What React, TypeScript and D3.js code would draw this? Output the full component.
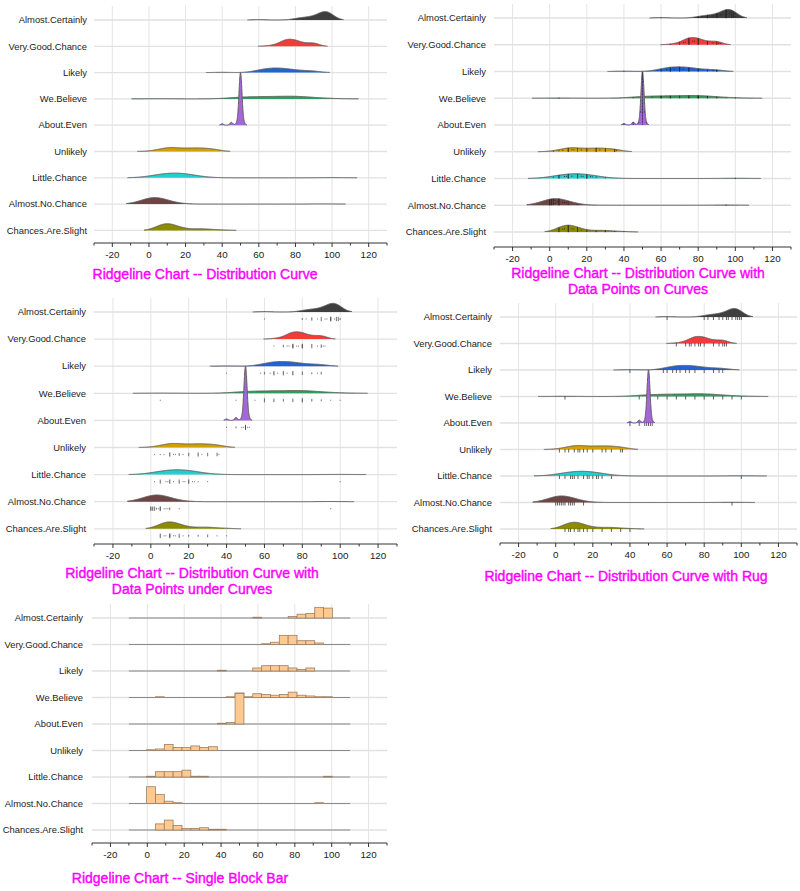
import React from "react";
import * as d3 from "d3";

// ---------------- DATA ----------------
const categories = [
  "Almost.Certainly",
  "Very.Good.Chance",
  "Likely",
  "We.Believe",
  "About.Even",
  "Unlikely",
  "Little.Chance",
  "Almost.No.Chance",
  "Chances.Are.Slight",
];

const curveColors = [
  "#3f3f3f",
  "#f23b3b",
  "#1f63d6",
  "#2f9e5c",
  "#a467d8",
  "#d4a000",
  "#20cfcf",
  "#6e4545",
  "#8e8b00",
];

const almostCertainly = [60, 80, 80, 82, 85, 85, 85, 85, 88, 90, 90, 90, 90, 90, 92, 93, 95, 95, 95, 95, 95, 95, 95, 95, 95, 95, 95, 95, 97, 98, 98, 98, 98, 98, 99, 99, 99, 99, 99, 100, 100];
const veryGoodChance = [65, 70, 70, 70, 72, 73, 75, 75, 75, 75, 75, 75, 75, 75, 75, 75, 77, 78, 80, 80, 80, 80, 80, 80, 80, 80, 80, 80, 85, 85, 85, 85, 85, 88, 90, 90, 90, 90, 91, 92];
const likely = [40, 58, 60, 60, 60, 63, 65, 65, 65, 65, 65, 65, 67, 70, 70, 70, 70, 70, 70, 72, 75, 75, 75, 75, 75, 75, 80, 80, 80, 80, 85, 85, 88, 90, 90, 90];
const weBelieve = [5, 45, 50, 50, 50, 50, 50, 50, 55, 60, 60, 60, 60, 60, 65, 65, 65, 65, 70, 70, 70, 75, 75, 75, 75, 80, 80, 80, 80, 80, 80, 80, 85, 85, 85, 90, 90, 95, 100];
const aboutEven = [40, 45, 45, 48, 49, 50, 50, 50, 50, 50, 50, 50, 50, 50, 50, 50, 50, 50, 50, 50, 50, 50, 50, 50, 50, 50, 50, 50, 50, 50, 50, 50, 50, 50, 50, 50, 50, 50, 50, 50, 50, 51, 52];
const unlikely = [2, 5, 7, 10, 10, 10, 10, 10, 10, 12, 13, 15, 15, 15, 17, 20, 20, 20, 20, 25, 25, 25, 25, 25, 27, 30, 30, 30, 30, 35, 35, 35, 35, 36];
const littleChance = [2, 5, 5, 5, 5, 5, 8, 9, 10, 10, 10, 10, 10, 10, 12, 15, 15, 15, 15, 15, 17, 18, 20, 20, 20, 20, 20, 20, 20, 22, 23, 25, 30, 100];
const almostNoChance = [0, 0, 0, 0, 0, 0, 0, 0, 1, 1, 1, 1, 1, 1, 2, 2, 2, 2, 2, 3, 3, 4, 5, 5, 5, 5, 5, 5, 5, 5, 5, 7, 8, 9, 10, 10, 10, 15, 95];
const chancesAreSlight = [5, 5, 5, 5, 5, 5, 7, 8, 10, 10, 10, 10, 10, 10, 10, 10, 10, 10, 10, 12, 13, 15, 15, 15, 15, 15, 17, 20, 20, 25, 25, 30, 30, 30, 35, 40];

const seriesValues = [
  almostCertainly,
  veryGoodChance,
  likely,
  weBelieve,
  aboutEven,
  unlikely,
  littleChance,
  almostNoChance,
  chancesAreSlight,
];

const xDomain = [-30, 130];
const majorTicks = [-20, 0, 20, 40, 60, 80, 100, 120];
const minorTicks = [-30, -10, 10, 30, 50, 70, 90, 110, 130];
const histDomain = [-10, 110];
const histBinCount = 25;

// ---------------- LAYOUT ----------------
type Panel = {
  kind: "curve" | "on" | "under" | "rug" | "hist";
  x0: number; x1: number; row0: number; rowStep: number; axisY: number;
  labelX: number; title: string[]; titleX: number; titleY: number;
};

const panels: Panel[] = [
  { kind: "curve", x0: 94, x1: 387, row0: 20, rowStep: 26.3, axisY: 243, labelX: 87,
    title: ["Ridgeline Chart -- Distribution Curve"], titleX: 205, titleY: 279 },
  { kind: "on", x0: 494, x1: 791, row0: 18, rowStep: 26.75, axisY: 247, labelX: 486,
    title: ["Ridgeline Chart -- Distribution Curve with", "Data Points on Curves"], titleX: 638, titleY: 278 },
  { kind: "under", x0: 94, x1: 397, row0: 312, rowStep: 27.1, axisY: 544, labelX: 86,
    title: ["Ridgeline Chart -- Distribution Curve with", "Data Points under Curves"], titleX: 192, titleY: 578 },
  { kind: "rug", x0: 500, x1: 797, row0: 317, rowStep: 26.5, axisY: 543, labelX: 492,
    title: ["Ridgeline Chart -- Distribution Curve with Rug"], titleX: 626, titleY: 581 },
  { kind: "hist", x0: 92, x1: 387, row0: 618, rowStep: 26.5, axisY: 843, labelX: 83,
    title: ["Ridgeline Chart -- Single Block Bar"], titleX: 180, titleY: 883 },
];

const FONT = "'Liberation Sans', Arial, Helvetica, sans-serif";

// ---------------- DENSITY ----------------
function gauss(u: number) {
  return Math.exp(-0.5 * u * u) / Math.sqrt(2 * Math.PI);
}
function densityAt(v: number[], bw: number, x: number) {
  let s = 0;
  for (const d of v) s += gauss((x - d) / bw);
  return s / (v.length * bw);
}

const densities = seriesValues.map((v) => {
  const n = v.length;
  const sd = d3.deviation(v) as number;
  const bw = 0.9 * sd * Math.pow(n, -0.2);
  const ext = 1.9 * bw;
  const lo = (d3.min(v) as number) - ext;
  const hi = (d3.max(v) as number) + ext;
  const N = 400;
  const pts: [number, number][] = d3.range(N + 1).map((i) => {
    const x = lo + ((hi - lo) * i) / N;
    return [x, densityAt(v, bw, x)];
  });
  return { bw, pts };
});
const maxDensity = d3.max(densities, (d) => d3.max(d.pts, (p) => p[1]) as number) as number;

const histograms = seriesValues.map((v) =>
  d3
    .bin()
    .domain(histDomain as [number, number])
    .thresholds(d3.range(1, histBinCount).map((i) => histDomain[0] + (i * (histDomain[1] - histDomain[0])) / histBinCount))(v)
);
const maxCount = d3.max(histograms, (h) => d3.max(h, (b) => b.length) as number) as number;

function countValues(v: number[]) {
  const m = d3.rollup(v, (g) => g.length, (d) => d);
  return Array.from(m.entries()).sort((a, b) => a[0] - b[0]);
}

// ---------------- RENDER ----------------
function PanelView({ p }: { p: Panel }) {
  const x = d3.scaleLinear().domain(xDomain).range([p.x0, p.x1]);
  const rowY = (i: number) => p.row0 + i * p.rowStep;
  const hScale = d3.scaleLinear().domain([0, maxDensity]).range([0, 2 * p.rowStep]);
  const cScale = d3.scaleLinear().domain([0, maxCount]).range([0, 1.15 * p.rowStep]);
  const gridTop = p.row0 - 14;

  const rows = categories.map((cat, i) => {
    const base = rowY(i);
    const v = seriesValues[i];
    const dens = densities[i];
    const elems: React.ReactNode[] = [];
    if (p.kind === "hist") {
      elems.push(
        <line key="bl" x1={x(histDomain[0])} x2={x(histDomain[1])} y1={base} y2={base} stroke="#8a8a8a" strokeWidth={1.1} />
      );
      histograms[i].forEach((b, j) => {
        if (b.length === 0) return;
        const h = cScale(b.length);
        elems.push(
          <rect key={"b" + j} x={x(b.x0 as number)} y={base - h} width={x(b.x1 as number) - x(b.x0 as number)} height={h}
            fill="#ffc98f" stroke="#9a8068" strokeWidth={0.8} />
        );
      });
    } else {
      const area = d3.area<[number, number]>().x((d) => x(d[0])).y0(base).y1((d) => base - hScale(d[1]));
      const line = d3.line<[number, number]>().x((d) => x(d[0])).y((d) => base - hScale(d[1]));
      elems.push(<path key="a" d={area(dens.pts) as string} fill={curveColors[i]} stroke="none" />);
      elems.push(<path key="l" d={line(dens.pts) as string} fill="none" stroke="#5c5c5c" strokeWidth={1} />);
      const counts = countValues(v);
      if (p.kind === "on") {
        counts.forEach(([val, c]) => {
          const h = hScale(densityAt(v, dens.bw, val));
          for (let j = 0; j < c; j++) {
            elems.push(
              <circle key={`p${val}-${j}`} cx={x(val)} cy={base - (h * (j + 0.5)) / c} r={0.6} fill="#1e1e1e" opacity={0.75} />
            );
          }
        });
      } else if (p.kind === "under") {
        counts.forEach(([val, c]) => {
          const spread = Math.min(c, 5) * 0.8;
          for (let j = 0; j < c; j++) {
            const off = c === 1 ? 0 : ((j + 0.5) / c - 0.5) * spread;
            elems.push(
              <rect key={`u${val}-${j}`} x={x(val) - 0.5} y={base + 7 + off - 0.6} width={1} height={1.2} fill="#555" opacity={0.7} />
            );
          }
        });
      } else if (p.kind === "rug") {
        counts.forEach(([val]) => {
          elems.push(
            <line key={`r${val}`} x1={x(val)} x2={x(val)} y1={base - 0.5} y2={base + 3} stroke="#3a3a3a" strokeWidth={0.8} />
          );
        });
      }
    }
    return (
      <g key={cat}>
        {elems}
      </g>
    );
  });

  return (
    <g>
      {/* grid */}
      {majorTicks.map((t) => (
        <line key={"vg" + t} x1={x(t)} x2={x(t)} y1={gridTop} y2={p.axisY} stroke="#e4e4e4" strokeWidth={1} />
      ))}
      {categories.map((c, i) => (
        <line key={"hg" + c} x1={p.x0} x2={p.x1} y1={rowY(i)} y2={rowY(i)} stroke="#e1e1e1" strokeWidth={1.3} />
      ))}
      {/* labels */}
      {categories.map((c, i) => (
        <text key={"lb" + c} x={p.labelX} y={rowY(i)} dy="0.35em" textAnchor="end" fontSize={9.4} fill="#222" fontFamily={FONT}>
          {c}
        </text>
      ))}
      {rows}
      {/* axis */}
      <line x1={p.x0} x2={p.x1} y1={p.axisY} y2={p.axisY} stroke="#333" strokeWidth={1} />
      {majorTicks.map((t) => (
        <g key={"mt" + t}>
          <line x1={x(t)} x2={x(t)} y1={p.axisY} y2={p.axisY + 4} stroke="#333" strokeWidth={1} />
          <text x={x(t)} y={p.axisY + 15} textAnchor="middle" fontSize={9.8} fill="#222" fontFamily={FONT}>
            {t}
          </text>
        </g>
      ))}
      {minorTicks.map((t) => (
        <line key={"nt" + t} x1={x(t)} x2={x(t)} y1={p.axisY} y2={p.axisY + 2.5} stroke="#333" strokeWidth={1} />
      ))}
      {/* title */}
      {p.title.map((line, k) => (
        <text key={"t" + k} x={p.titleX} y={p.titleY + k * 15.5} textAnchor="middle" fontSize={14} fill="#ff00ff"
          stroke="#ff00ff" strokeWidth={0.4} fontFamily={FONT}>
          {line}
        </text>
      ))}
    </g>
  );
}

export default function App() {
  return (
    <svg width={800} height={891} style={{ position: "absolute", left: 0, top: 0, background: "#fff" }}>
      <rect width={800} height={891} fill="#fff" />
      {panels.map((p, i) => (
        <PanelView key={i} p={p} />
      ))}
    </svg>
  );
}
